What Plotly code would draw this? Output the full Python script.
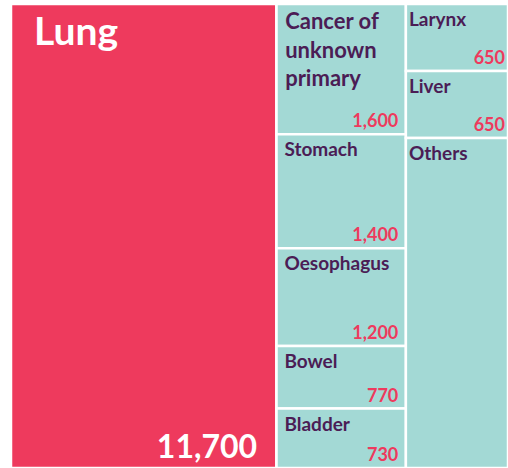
import plotly.graph_objects as go

# ---- data ----
ids = ["root", "Lung", "G2", "G3",
       "Cancer of unknown primary", "Stomach", "Oesophagus", "Bowel", "Bladder",
       "Larynx", "Liver", "Others"]
parents = ["", "root", "root", "root",
           "G2", "G2", "G2", "G2", "G2",
           "G3", "G3", "G3"]
values = [0, 11700, 0, 0,
          1600, 1400, 1200, 770, 730,
          650, 650, 3200]
label_lines = [[], ["Lung"], [], [],
               ["Cancer of", "unknown", "primary"], ["Stomach"], ["Oesophagus"], ["Bowel"], ["Bladder"],
               ["Larynx"], ["Liver"], ["Others"]]
value_text = ["", "11,700", "", "",
              "1,600", "1,400", "1,200", "770", "730",
              "650", "650", ""]

RED = "#EE3A5D"
TEAL = "#A3D9D5"
PURPLE = "#4B1D55"
NB = "\u00a0"

colors = []
lab_sizes, lab_colors, val_sizes, val_colors = [], [], [], []
labs, vals = [], []
for i, name in enumerate(ids):
    col3 = parents[i] == "G3"
    if name == "root":
        colors.append("white")
    elif name == "Lung":
        colors.append(RED)
    else:
        colors.append(TEAL)
    if name == "Lung":
        labs.append(NB * 2 + "<b>" + label_lines[i][0] + "</b>")
        lab_sizes.append(39); lab_colors.append("white")
        vals.append("<b>" + value_text[i] + "</b>" + NB * 2)
        val_sizes.append(32); val_colors.append("white")
    else:
        lines = label_lines[i]
        pre = "" if col3 else NB
        labs.append("<br>".join(pre + "<b>" + ln + "</b>" for ln in lines) if lines else "")
        lab_sizes.append(22 if name.startswith("Cancer") else 19)
        lab_colors.append(PURPLE)
        vt = value_text[i]
        post = "" if col3 else NB
        vals.append("<b>" + vt + "</b>" + post if vt else "")
        val_sizes.append(18); val_colors.append(RED)

common = dict(ids=ids, labels=ids, parents=parents, values=values,
              branchvalues="remainder", sort=False,
              tiling=dict(packing="slice-dice", pad=0),
              pathbar=dict(visible=False), textinfo="text",
              hoverinfo="skip")

fig = go.Figure()
fig.add_trace(go.Treemap(
    **common,
    text=labs,
    textposition="top left",
    textfont=dict(family="Lato", size=lab_sizes, color=lab_colors),
    marker=dict(colors=colors, line=dict(color="white", width=2.5),
                pad=dict(t=0, l=0, r=0, b=0)),
))
fig.add_trace(go.Treemap(
    **common,
    text=vals,
    textposition="bottom right",
    textfont=dict(family="Lato", size=val_sizes, color=val_colors),
    marker=dict(colors=["rgba(0,0,0,0)"] * len(ids), line=dict(width=0),
                pad=dict(t=0, l=0, r=0, b=0)),
))
fig.update_layout(width=508, height=468,
                  margin=dict(l=11, r=0, t=4, b=0),
                  paper_bgcolor="white", showlegend=False)
fig.write_html("out.html",
               config={"displayModeBar": False},
               post_script="document.body.style.margin='0';"
                           "document.body.style.overflow='hidden';")
